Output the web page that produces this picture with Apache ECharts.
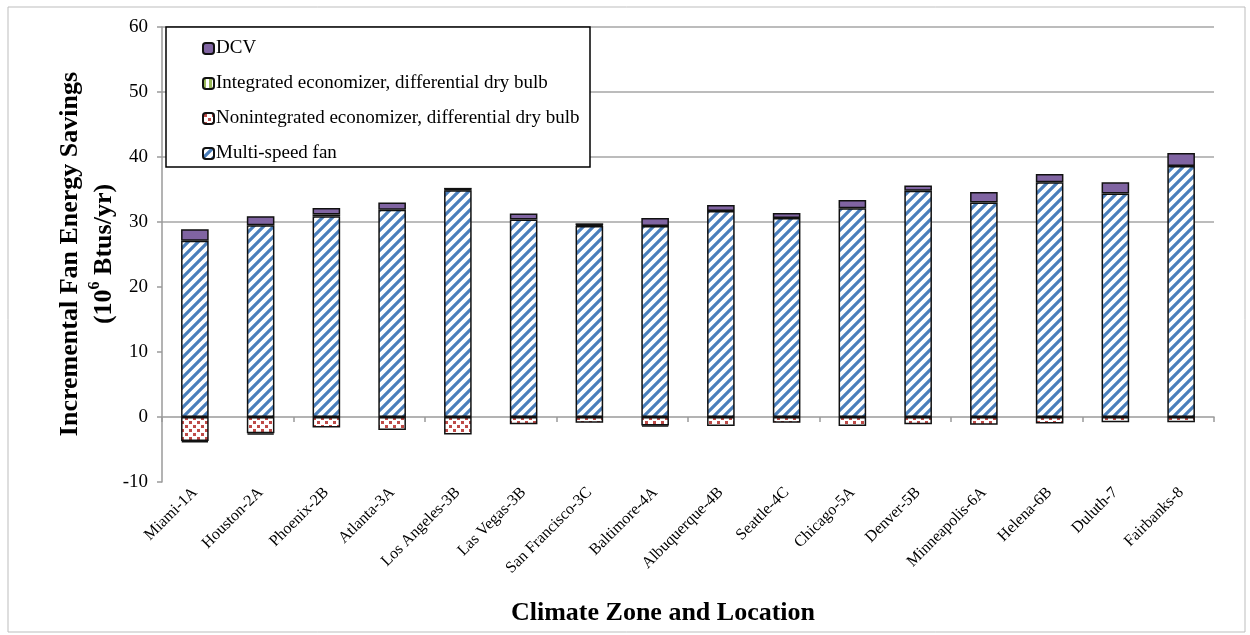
<!DOCTYPE html>
<html>
<head>
<meta charset="utf-8">
<script src="https://cdn.jsdelivr.net/npm/echarts@6/dist/echarts.min.js"></script>
<style>
  html, body { margin: 0; padding: 0; background: #fff; }
  #chart { width: 1250px; height: 635px; }
</style>
</head>
<body>
<div id="chart"></div>
<script>
// values (10^6 Btus/yr)
var categories = ['Miami-1A', 'Houston-2A', 'Phoenix-2B', 'Atlanta-3A', 'Los Angeles-3B', 'Las Vegas-3B',
  'San Francisco-3C', 'Baltimore-4A', 'Albuquerque-4B', 'Seattle-4C', 'Chicago-5A', 'Denver-5B',
  'Minneapolis-6A', 'Helena-6B', 'Duluth-7', 'Fairbanks-8'];
var fanSavings = [27.1, 29.5, 30.9, 31.9, 34.9, 30.4, 29.4, 29.4, 31.7, 30.6, 32.1, 34.8, 33.0, 36.1, 34.4, 38.6];
var nonintEcon = [-3.7, -2.5, -1.6, -2.0, -2.7, -1.1, -0.9, -1.3, -1.4, -0.9, -1.4, -1.1, -1.2, -1.0, -0.8, -0.8];
var intEcon = [-0.2, -0.2, 0.25, null, 0.1, null, 0.1, -0.2, null, null, null, null, null, null, null, null];
var dcv = [1.8, 1.4, 1.0, 1.1, 0.25, 0.9, 0.3, 1.2, 0.9, 0.8, 1.3, 0.8, 1.6, 1.3, 1.7, 2.0];
var yTicks = { min: -10, max: 60, step: 10 };

var serif = '"Liberation Serif", "DejaVu Serif", serif';

// fill patterns like the excel ones
function stripes() {
  var c = document.createElement('canvas');
  c.width = 10; c.height = 10;
  var g = c.getContext('2d');
  g.fillStyle = '#fff';
  g.fillRect(0, 0, 10, 10);
  g.strokeStyle = '#4a7ebb';
  g.lineWidth = 3.2;
  g.beginPath();
  g.moveTo(-2, 12); g.lineTo(12, -2);
  g.moveTo(-7, 7); g.lineTo(7, -7);
  g.moveTo(3, 17); g.lineTo(17, 3);
  g.stroke();
  return c;
}
function dots() {
  var c = document.createElement('canvas');
  c.width = 8; c.height = 8;
  var g = c.getContext('2d');
  g.fillStyle = '#fff';
  g.fillRect(0, 0, 8, 8);
  g.fillStyle = '#be4b48';
  g.fillRect(1, 1, 3, 3);
  g.fillRect(5, 5, 3, 3);
  return c;
}
function greenPat() {
  var c = document.createElement('canvas');
  c.width = 6; c.height = 6;
  var g = c.getContext('2d');
  g.fillStyle = '#fff';
  g.fillRect(0, 0, 6, 6);
  g.fillStyle = '#9bbb59';
  g.fillRect(0, 0, 3, 6);
  return c;
}

var chart = echarts.init(document.getElementById('chart'));

var barBase = {
  type: 'bar',
  stack: 'total',
  barWidth: '42%',
  xAxisIndex: 0
};

var option = {
  backgroundColor: '#fff',
  animation: false,
  grid: { left: 162, right: 36, top: 27, bottom: 153, containLabel: false },
  legend: {
    orient: 'vertical',
    left: 197,
    top: 34,
    itemWidth: 11,
    itemHeight: 11,
    itemGap: 16,
    z: 5,
    textStyle: { fontFamily: serif, fontSize: 19, color: '#000', padding: [0, 0, 0, -3] },
    data: ['DCV', 'Integrated economizer, differential dry bulb',
      'Nonintegrated economizer, differential dry bulb', 'Multi-speed fan']
  },
  graphic: [
    { type: 'rect', z: 1, shape: { x: 166, y: 27, width: 424, height: 140 },
      style: { fill: '#fff', stroke: '#000', lineWidth: 1.5 } },
    { type: 'rect', z: -1, silent: true, shape: { x: 8, y: 7, width: 1237, height: 625 },
      style: { fill: 'none', stroke: '#bdbdbd', lineWidth: 1 } },
    { type: 'text', x: 663, y: 613, z: 3,
      style: { text: 'Climate Zone and Location', font: 'bold 26px ' + serif, fill: '#000',
        align: 'center', verticalAlign: 'middle' } },
    { type: 'text', x: 87, y: 254, rotation: Math.PI / 2, z: 3,
      style: {
        text: '{a|Incremental Fan Energy Savings}\n{a|(10}{s|6}{a| Btus/yr)}',
        align: 'center', verticalAlign: 'middle',
        rich: {
          a: { font: 'bold 26px ' + serif, fill: '#000', lineHeight: 34 },
          s: { font: 'bold 16px ' + serif, fill: '#000', verticalAlign: 'top', lineHeight: 34, padding: [0, 0, 10, 0] }
        }
      } }
  ],
  xAxis: [
    {
      type: 'category',
      data: categories,
      axisLine: { onZero: true, lineStyle: { color: '#9a9a9a', width: 1.5 } },
      axisTick: { show: true, alignWithLabel: false, length: 5, lineStyle: { color: '#9a9a9a', width: 1.5 } },
      axisLabel: { show: false }
    },
    {
      type: 'category',
      data: categories,
      position: 'bottom',
      axisLine: { show: false },
      axisTick: { show: false },
      axisLabel: {
        rotate: 45, interval: 0, margin: 8,
        fontFamily: serif, fontSize: 16, color: '#000'
      }
    }
  ],
  yAxis: {
    type: 'value',
    min: yTicks.min,
    max: yTicks.max,
    interval: yTicks.step,
    axisLine: { show: true, lineStyle: { color: '#9a9a9a', width: 1.5 } },
    axisTick: { show: true, length: 5, lineStyle: { color: '#9a9a9a', width: 1.5 } },
    axisLabel: { fontFamily: serif, fontSize: 19, color: '#000', margin: 14 },
    // only the lines from 30 up show in the original
    splitLine: { show: true, lineStyle: { color: ['transparent', 'transparent', 'transparent', 'transparent', '#a6a6a6', '#a6a6a6', '#a6a6a6', '#a6a6a6'], width: 1.5 } }
  },
  series: [
    Object.assign({}, barBase, {
      name: 'Multi-speed fan', data: fanSavings,
      itemStyle: { color: { image: stripes(), repeat: 'repeat' }, borderColor: '#111', borderWidth: 1.5 }
    }),
    Object.assign({}, barBase, {
      name: 'Nonintegrated economizer, differential dry bulb', data: nonintEcon,
      itemStyle: { color: { image: dots(), repeat: 'repeat' }, borderColor: '#111', borderWidth: 1.5 }
    }),
    Object.assign({}, barBase, {
      name: 'Integrated economizer, differential dry bulb', data: intEcon,
      itemStyle: { color: { image: greenPat(), repeat: 'repeat' }, borderColor: '#111', borderWidth: 1.5 }
    }),
    Object.assign({}, barBase, {
      name: 'DCV', data: dcv,
      itemStyle: { color: '#8064a2', borderColor: '#111', borderWidth: 1.5 }
    })
  ]
};

chart.setOption(option);
</script>
</body>
</html>
